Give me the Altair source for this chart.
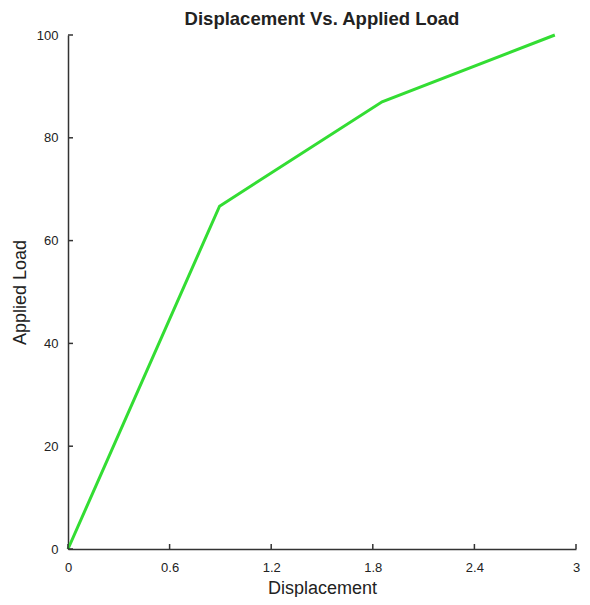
import altair as alt
import pandas as pd

displacement = [0.0, 0.895, 1.855, 2.875]
applied_load = [0.0, 66.7, 87.0, 100.0]
x_ticks = [0, 0.6, 1.2, 1.8, 2.4, 3]
y_ticks = [0, 20, 40, 60, 80, 100]

W, H = 508, 514
FONT = "Liberation Sans"

df = pd.DataFrame({"Displacement": displacement, "Applied Load": applied_load})
xt = pd.DataFrame({"v": x_ticks})
yt = pd.DataFrame({"v": y_ticks})

xscale = alt.Scale(domain=[0, 3], nice=False, zero=False)
yscale = alt.Scale(domain=[0, 100], nice=False, zero=False)

line = alt.Chart(df).mark_line(color="#33dd33", strokeWidth=3).encode(
    x=alt.X("Displacement:Q", scale=xscale,
            axis=alt.Axis(values=x_ticks, format="~g", title="Displacement", grid=False,
                          tickSize=0, labelPadding=12, titlePadding=5,
                          labelFontSize=13, titleFontSize=18, labelFont=FONT, titleFont=FONT,
                          titleFontWeight="normal", labelColor="#222", titleColor="#222",
                          domainColor="#333", domainWidth=1.5, labelFlush=False)),
    y=alt.Y("Applied Load:Q", scale=yscale,
            axis=alt.Axis(values=y_ticks, title="Applied Load", grid=False,
                          tickSize=0, labelPadding=10, titlePadding=7,
                          labelFontSize=13, titleFontSize=18, labelFont=FONT, titleFont=FONT,
                          titleFontWeight="normal", labelColor="#222", titleColor="#222",
                          domainColor="#333", domainWidth=1.5, labelFlush=False)),
)

xtick_marks = alt.Chart(xt).mark_rule(color="#333", strokeWidth=1.5).encode(
    x=alt.X("v:Q", scale=xscale),
    y=alt.value(H),
    y2=alt.value(H - 5),
)
ytick_marks = alt.Chart(yt).mark_rule(color="#333", strokeWidth=1.5).encode(
    y=alt.Y("v:Q", scale=yscale),
    x=alt.value(0),
    x2=alt.value(5),
)

chart = alt.layer(line, xtick_marks, ytick_marks).properties(
    width=W, height=H,
    title=alt.TitleParams("Displacement Vs. Applied Load", font=FONT, fontSize=18.5,
                          fontWeight="bold", color="#222", offset=1, anchor="middle"),
    autosize=alt.AutoSizeParams(type="none"),
    padding={"left": 60, "top": 27, "right": 6, "bottom": 48},
).configure(background="white").configure_view(stroke=None)

chart.save("out.html", embed_options={"renderer": "svg", "actions": False})
